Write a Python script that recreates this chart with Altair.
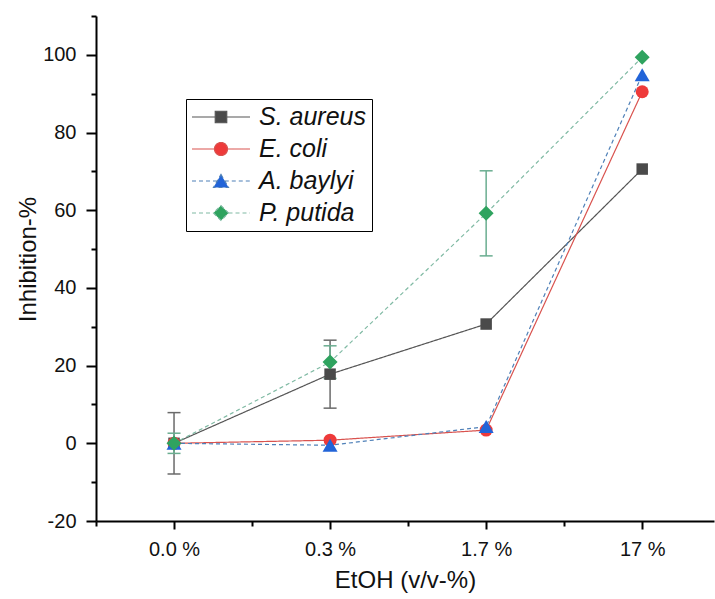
import altair as alt
import pandas as pd

# ---- data ----
conc_labels = ["0.0 %", "0.3 %", "1.7 %", "17 %"]
series_names = ["S. aureus", "E. coli", "A. baylyi", "P. putida"]

s_aureus = [0.0, 17.8, 30.7, 70.6]
e_coli = [0.0, 0.8, 3.4, 90.5]
a_baylyi = [0.0, -0.5, 4.3, 94.9]
p_putida = [0.0, 20.9, 59.2, 99.4]

s_aureus_err = [7.9, 8.75, 0.0, 0.0]
e_coli_err = [0.0, 0.0, 0.0, 0.0]
a_baylyi_err = [0.0, 0.0, 0.0, 0.0]
p_putida_err = [2.6, 4.2, 10.95, 0.0]

values = dict(zip(series_names, [s_aureus, e_coli, a_baylyi, p_putida]))
errors = dict(zip(series_names, [s_aureus_err, e_coli_err, a_baylyi_err, p_putida_err]))

rows = []
for name in series_names:
    for i, lab in enumerate(conc_labels):
        v = values[name][i]
        e = errors[name][i]
        rows.append({"series": name, "pos": i + 1, "conc": lab, "value": v,
                     "err": e, "lo": v - e, "hi": v + e})
df = pd.DataFrame(rows)

# ---- styles ----
line_colors = ["#555555", "#d9534f", "#4f80b8", "#80baa4"]
marker_colors = ["#4a4a4a", "#ee3a3a", "#2264d8", "#2fa35f"]
err_colors = ["#6a6a6a", "#d9534f", "#4f80b8", "#6aad90"]
dashes = [[1, 0], [1, 0], [4, 3], [4, 3]]
shapes = ["square", "circle", "triangle-up", "diamond"]
sizes = [132, 169, 225, 225]
legend_paths = [
    "M-1,0H-0.2M0.2,0H1M-0.198,-0.198H0.198V0.198H-0.198Z",
    "M-1,0H-0.224M0.224,0H1M0.224,0A0.224,0.224,0,1,1,-0.224,0A0.224,0.224,0,1,1,0.224,0Z",
    "M-1,0H-0.13M0.13,0H1M0,-0.224L0.259,0.224L-0.259,0.224Z",
    "M-1,0H-0.259M0.259,0H1M0,-0.259L0.259,0L0,0.259L-0.259,0Z",
]

FONT = "Liberation Sans"

x_scale = alt.Scale(domain=[0.5, 4.46], nice=False, zero=False)
y_scale = alt.Scale(domain=[-20, 110], nice=False, zero=False)

label_expr = " : ".join(
    f"datum.value == {i + 1} ? '{lab}'" for i, lab in enumerate(conc_labels)
) + " : ''"

axis_common = dict(
    grid=False, domainColor="black", domainWidth=2, tickColor="black", tickWidth=2,
    labelFont=FONT, labelFontSize=20, labelColor="#111111",
    titleFont=FONT, titleFontSize=24, titleFontWeight="normal", titleColor="#111111",
)

x_axis = alt.Axis(
    values=[0.5, 1, 1.5, 2, 2.5, 3, 3.5, 4],
    labelExpr=label_expr,
    tickSize={"condition": {"test": "datum.value % 1 === 0", "value": 8}, "value": 5},
    labelPadding=10,
    title="EtOH (v/v-%)",
    titleBaseline="middle", titleY=59,
    **axis_common,
)
y_axis = alt.Axis(
    values=list(range(-20, 111, 10)),
    labelExpr="datum.value % 20 === 0 ? '' + datum.value : ''",
    tickSize={"condition": {"test": "datum.value % 20 === 0", "value": 10}, "value": 5},
    labelPadding=10,
    title="Inhibition-%",
    titleBaseline="middle", titleX=-68, titleY=243,
    **axis_common,
)


def X():
    return alt.X("pos:Q", scale=x_scale, axis=x_axis)


def Y(field):
    return alt.Y(f"{field}:Q", scale=y_scale, axis=y_axis)


layers = []
# error bars first
for k, name in enumerate(series_names):
    base = alt.Chart(df).transform_filter(
        (alt.datum.series == name) & (alt.datum.err > 0)
    )
    layers.append(base.mark_rule(color=err_colors[k], strokeWidth=1.5).encode(
        x=X(), y=Y("lo"), y2="hi:Q"))
    layers.append(base.mark_tick(color=err_colors[k], size=13, thickness=1.5,
                                 orient="horizontal", opacity=1).encode(x=X(), y=Y("lo")))
    layers.append(base.mark_tick(color=err_colors[k], size=13, thickness=1.5,
                                 orient="horizontal", opacity=1).encode(x=X(), y=Y("hi")))

# lines
for k, name in enumerate(series_names):
    base = alt.Chart(df).transform_filter(alt.datum.series == name)
    layers.append(base.mark_line(color=line_colors[k], strokeWidth=1.2,
                                 strokeDash=dashes[k]).encode(x=X(), y=Y("value")))

# markers
for k, name in enumerate(series_names):
    base = alt.Chart(df).transform_filter(alt.datum.series == name)
    layers.append(base.mark_point(filled=True, shape=shapes[k], size=sizes[k],
                                  color=marker_colors[k], opacity=1,
                                  strokeWidth=0).encode(x=X(), y=Y("value")))

# legend (empty layer carrying the legend scales)
leg = alt.Legend(
    title=None, orient="none", legendX=90, legendY=83,
    symbolSize=3364, symbolStrokeWidth=1.2, clipHeight=26,
    labelFont=FONT, labelFontStyle="italic", labelFontSize=25, labelColor="#111111",
    labelOffset=8, labelLimit=300,
    strokeColor="black", fillColor="white", padding=5, rowPadding=6,
)
legend_layer = alt.Chart(pd.DataFrame({"series": pd.Series([], dtype=str)})).mark_point(
    filled=True, opacity=1
).encode(
    fill=alt.Fill("series:N", scale=alt.Scale(domain=series_names, range=marker_colors), legend=leg),
    stroke=alt.Stroke("series:N", scale=alt.Scale(domain=series_names, range=line_colors), legend=leg),
    shape=alt.Shape("series:N", scale=alt.Scale(domain=series_names, range=legend_paths), legend=leg),
    strokeDash=alt.StrokeDash("series:N", scale=alt.Scale(domain=series_names, range=dashes), legend=leg),
)
layers.append(legend_layer)

chart = alt.layer(*layers).properties(
    width=618, height=505,
    autosize=alt.AutoSizeParams(type="none"),
    padding={"left": 96, "top": 16, "right": 1, "bottom": 78},
    background="white",
).configure_view(stroke=None)

chart.save("out.html", embed_options={"renderer": "svg", "actions": False})
